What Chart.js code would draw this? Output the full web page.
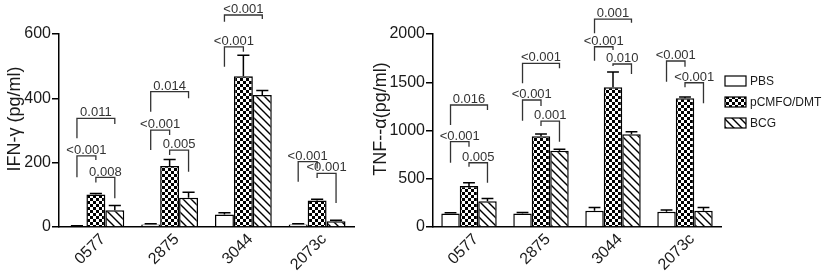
<!DOCTYPE html>
<html>
<head>
<meta charset="utf-8">
<script src="https://cdn.jsdelivr.net/npm/chart.js@4/dist/chart.umd.min.js"></script>
<style>
  body { margin: 0; background: #fff; }
  #wrap { position: relative; width: 822px; height: 272px; overflow: hidden; }
  canvas { position: absolute; top: 0; }
</style>
</head>
<body>
<div id="wrap">
  <canvas id="ifnChart" width="362" height="272" style="left:0"></canvas>
  <canvas id="tnfChart" width="456" height="272" style="left:366px"></canvas>
</div>
<script>
const categories = ['0577', '2875', '3044', '2073c'];
const groups = ['PBS', 'pCMFO/DMT', 'BCG'];

// IFN-γ (pg/ml)
const ifnPBS = [3, 8, 39, 8];
const ifnPBSErr = [1, 2, 5, 2];
const ifnCMFO = [101, 190, 469, 82];
const ifnCMFOErr = [3, 20, 65, 4];
const ifnBCG = [52, 91, 410, 18];
const ifnBCGErr = [15, 17, 14, 3];
const ifnTicks = [0, 600, 200];

// TNF-α (pg/ml)
const tnfPBS = [140, 140, 168, 158];
const tnfPBSErr = [8, 10, 35, 18];
const tnfCMFO = [425, 940, 1448, 1333];
const tnfCMFOErr = [34, 24, 158, 13];
const tnfBCG = [268, 790, 962, 168];
const tnfBCGErr = [27, 15, 24, 35];
const tnfTicks = [0, 2000, 500];

// p-value brackets: [category, bar a, bar b, top, leg a end, leg b end, label]
const ifnBrackets = [
  [0, 0, 1, 221, 155, 208, '<0.001'],
  [0, 1, 2, 154, 138, 89, '0.008'],
  [0, 0, 2, 338, 276, 320, '0.011'],
  [1, 0, 1, 301, 239, 286, '<0.001'],
  [1, 1, 2, 239, 224, 172, '0.005'],
  [1, 0, 2, 421, 358, 400, '0.014'],
  [2, 0, 1, 560, 498, 545, '<0.001'],
  [2, 0, 2, 659, 638, 647, '<0.001'],
  [3, 0, 1, 203, 141, 182, '<0.001'],
  [3, 1, 2, 167, 152, 75, '<0.001']
];
const tnfBrackets = [
  [0, 0, 1, 884, 666, 832, '<0.001'],
  [0, 1, 2, 666, 625, 459, '0.005'],
  [0, 0, 2, 1264, 1057, 1212, '0.016'],
  [1, 0, 1, 1316, 1101, 1254, '<0.001'],
  [1, 1, 2, 1098, 1047, 884, '0.001'],
  [1, 0, 2, 1696, 1489, 1645, '<0.001'],
  [2, 0, 1, 1868, 1723, 1834, '<0.001'],
  [2, 1, 2, 1689, 1668, 1585, '0.010'],
  [2, 0, 2, 2155, 2007, 2117, '0.001'],
  [3, 0, 1, 1720, 1506, 1661, '<0.001'],
  [3, 1, 2, 1495, 1448, 1282, '<0.001']
];

const FONT = "'Liberation Sans', Arial, sans-serif";
const INK = '#1a1a1a';

// fill patterns
function makeChecker() {
  const c = document.createElement('canvas');
  c.width = 6; c.height = 6;
  const g = c.getContext('2d');
  g.fillStyle = '#fff'; g.fillRect(0, 0, 6, 6);
  g.fillStyle = '#000';
  g.fillRect(0, 0, 3, 3);
  g.fillRect(3, 3, 3, 3);
  return g.createPattern(c, 'repeat');
}
function makeHatch() {
  const s = 8;
  const c = document.createElement('canvas');
  c.width = s; c.height = s;
  const g = c.getContext('2d');
  g.fillStyle = '#fff'; g.fillRect(0, 0, s, s);
  g.strokeStyle = '#000'; g.lineWidth = 1.4;
  g.beginPath();
  g.moveTo(-1, -1); g.lineTo(s + 1, s + 1);
  g.moveTo(-1, s - 1); g.lineTo(1, s + 1);
  g.moveTo(s - 1, -1); g.lineTo(s + 1, 1);
  g.stroke();
  return g.createPattern(c, 'repeat');
}
const fills = ['#fff', makeChecker(), makeHatch()];

const errorBars = {
  id: 'errorBars',
  afterDatasetsDraw(chart) {
    const ctx = chart.ctx;
    const y = chart.scales.y;
    ctx.save();
    ctx.strokeStyle = '#000';
    ctx.lineWidth = 1.5;
    chart.data.datasets.forEach((ds, i) => {
      chart.getDatasetMeta(i).data.forEach((bar, j) => {
        const top = y.getPixelForValue(ds.data[j] + ds.errors[j]);
        const half = bar.width * 0.32;
        ctx.beginPath();
        ctx.moveTo(bar.x, bar.y);
        ctx.lineTo(bar.x, top);
        ctx.moveTo(bar.x - half, top);
        ctx.lineTo(bar.x + half, top);
        ctx.stroke();
      });
    });
    ctx.restore();
  }
};

const brackets = {
  id: 'brackets',
  afterDraw(chart, args, opts) {
    const ctx = chart.ctx;
    const y = chart.scales.y;
    ctx.save();
    ctx.strokeStyle = '#333';
    ctx.lineWidth = 1.3;
    ctx.fillStyle = '#333';
    ctx.font = '13px ' + FONT;
    ctx.textAlign = 'center';
    ctx.textBaseline = 'bottom';
    opts.items.forEach(([cat, a, b, top, legA, legB, label]) => {
      const xa = chart.getDatasetMeta(a).data[cat].x;
      const xb = chart.getDatasetMeta(b).data[cat].x;
      const yt = y.getPixelForValue(top);
      ctx.beginPath();
      ctx.moveTo(xa, y.getPixelForValue(legA));
      ctx.lineTo(xa, yt);
      ctx.lineTo(xb, yt);
      ctx.lineTo(xb, y.getPixelForValue(legB));
      ctx.stroke();
      ctx.fillText(label, (xa + xb) / 2, yt + 1);
    });
    ctx.restore();
  }
};

// y-axis title, placed like the original (a bit above the plot centre)
const axisTitle = {
  id: 'axisTitle',
  afterDraw(chart, args, opts) {
    const ctx = chart.ctx;
    ctx.save();
    ctx.translate(opts.x, opts.y);
    ctx.rotate(-Math.PI / 2);
    ctx.font = '18px ' + FONT;
    ctx.fillStyle = INK;
    ctx.textAlign = 'center';
    ctx.textBaseline = 'middle';
    ctx.fillText(opts.text, 0, 0);
    ctx.restore();
  }
};

const sideLegend = {
  id: 'sideLegend',
  afterDraw(chart, args, opts) {
    if (!opts.show) return;
    const ctx = chart.ctx;
    ctx.save();
    ctx.font = '12px ' + FONT;
    ctx.textBaseline = 'middle';
    chart.data.datasets.forEach((ds, i) => {
      const cy = opts.y + i * 21;
      ctx.fillStyle = ds.backgroundColor;
      ctx.fillRect(opts.x, cy - 5, 21, 10);
      ctx.strokeStyle = '#000';
      ctx.lineWidth = 1.2;
      ctx.strokeRect(opts.x, cy - 5, 21, 10);
      ctx.fillStyle = INK;
      ctx.fillText(ds.label, opts.x + 25, cy + 1);
    });
    ctx.restore();
  }
};

function buildChart(id, series, errs, ticks, title, bracketRows, axisWidth, padRight, legend) {
  new Chart(document.getElementById(id), {
    type: 'bar',
    data: {
      labels: categories,
      datasets: series.map((s, i) => ({
        label: groups[i],
        data: s,
        errors: errs[i],
        backgroundColor: fills[i],
        borderColor: '#000',
        borderWidth: 1.5,
        categoryPercentage: 0.77,
        barPercentage: 1.0
      }))
    },
    options: {
      responsive: false,
      animation: false,
      layout: { padding: { top: 34, right: padRight, left: 0, bottom: 0 } },
      plugins: {
        legend: { display: false },
        tooltip: { enabled: false },
        brackets: { items: bracketRows },
        axisTitle: { text: title, x: 15, y: 119 },
        sideLegend: legend
      },
      scales: {
        x: {
          afterFit: (s) => { s.height = 45; },
          grid: { display: false, drawTicks: false },
          border: { display: true, color: '#000', width: 1.5 },
          ticks: {
            minRotation: 45, maxRotation: 45, padding: 3, labelOffset: 7,
            color: INK, font: { family: FONT, size: 16 }
          }
        },
        y: {
          min: ticks[0], max: ticks[1],
          afterFit: (s) => { s.width = axisWidth; },
          grid: { display: true, drawOnChartArea: false, drawTicks: true, tickLength: 7, color: '#000', lineWidth: 1.5 },
          border: { display: true, color: '#000', width: 1.5 },
          ticks: {
            stepSize: ticks[2], padding: 1, color: INK, font: { family: FONT, size: 16 },
            callback: (v) => String(v)
          }
        }
      }
    },
    plugins: [errorBars, brackets, axisTitle, sideLegend]
  });
}

buildChart('ifnChart', [ifnPBS, ifnCMFO, ifnBCG], [ifnPBSErr, ifnCMFOErr, ifnBCGErr],
  ifnTicks, 'IFN-γ (pg/ml)', ifnBrackets, 59, 8, { show: false });
buildChart('tnfChart', [tnfPBS, tnfCMFO, tnfBCG], [tnfPBSErr, tnfCMFOErr, tnfBCGErr],
  tnfTicks, 'TNF--α(pg/ml)', tnfBrackets, 67, 101, { show: true, x: 359, y: 81 });
</script>
</body>
</html>
